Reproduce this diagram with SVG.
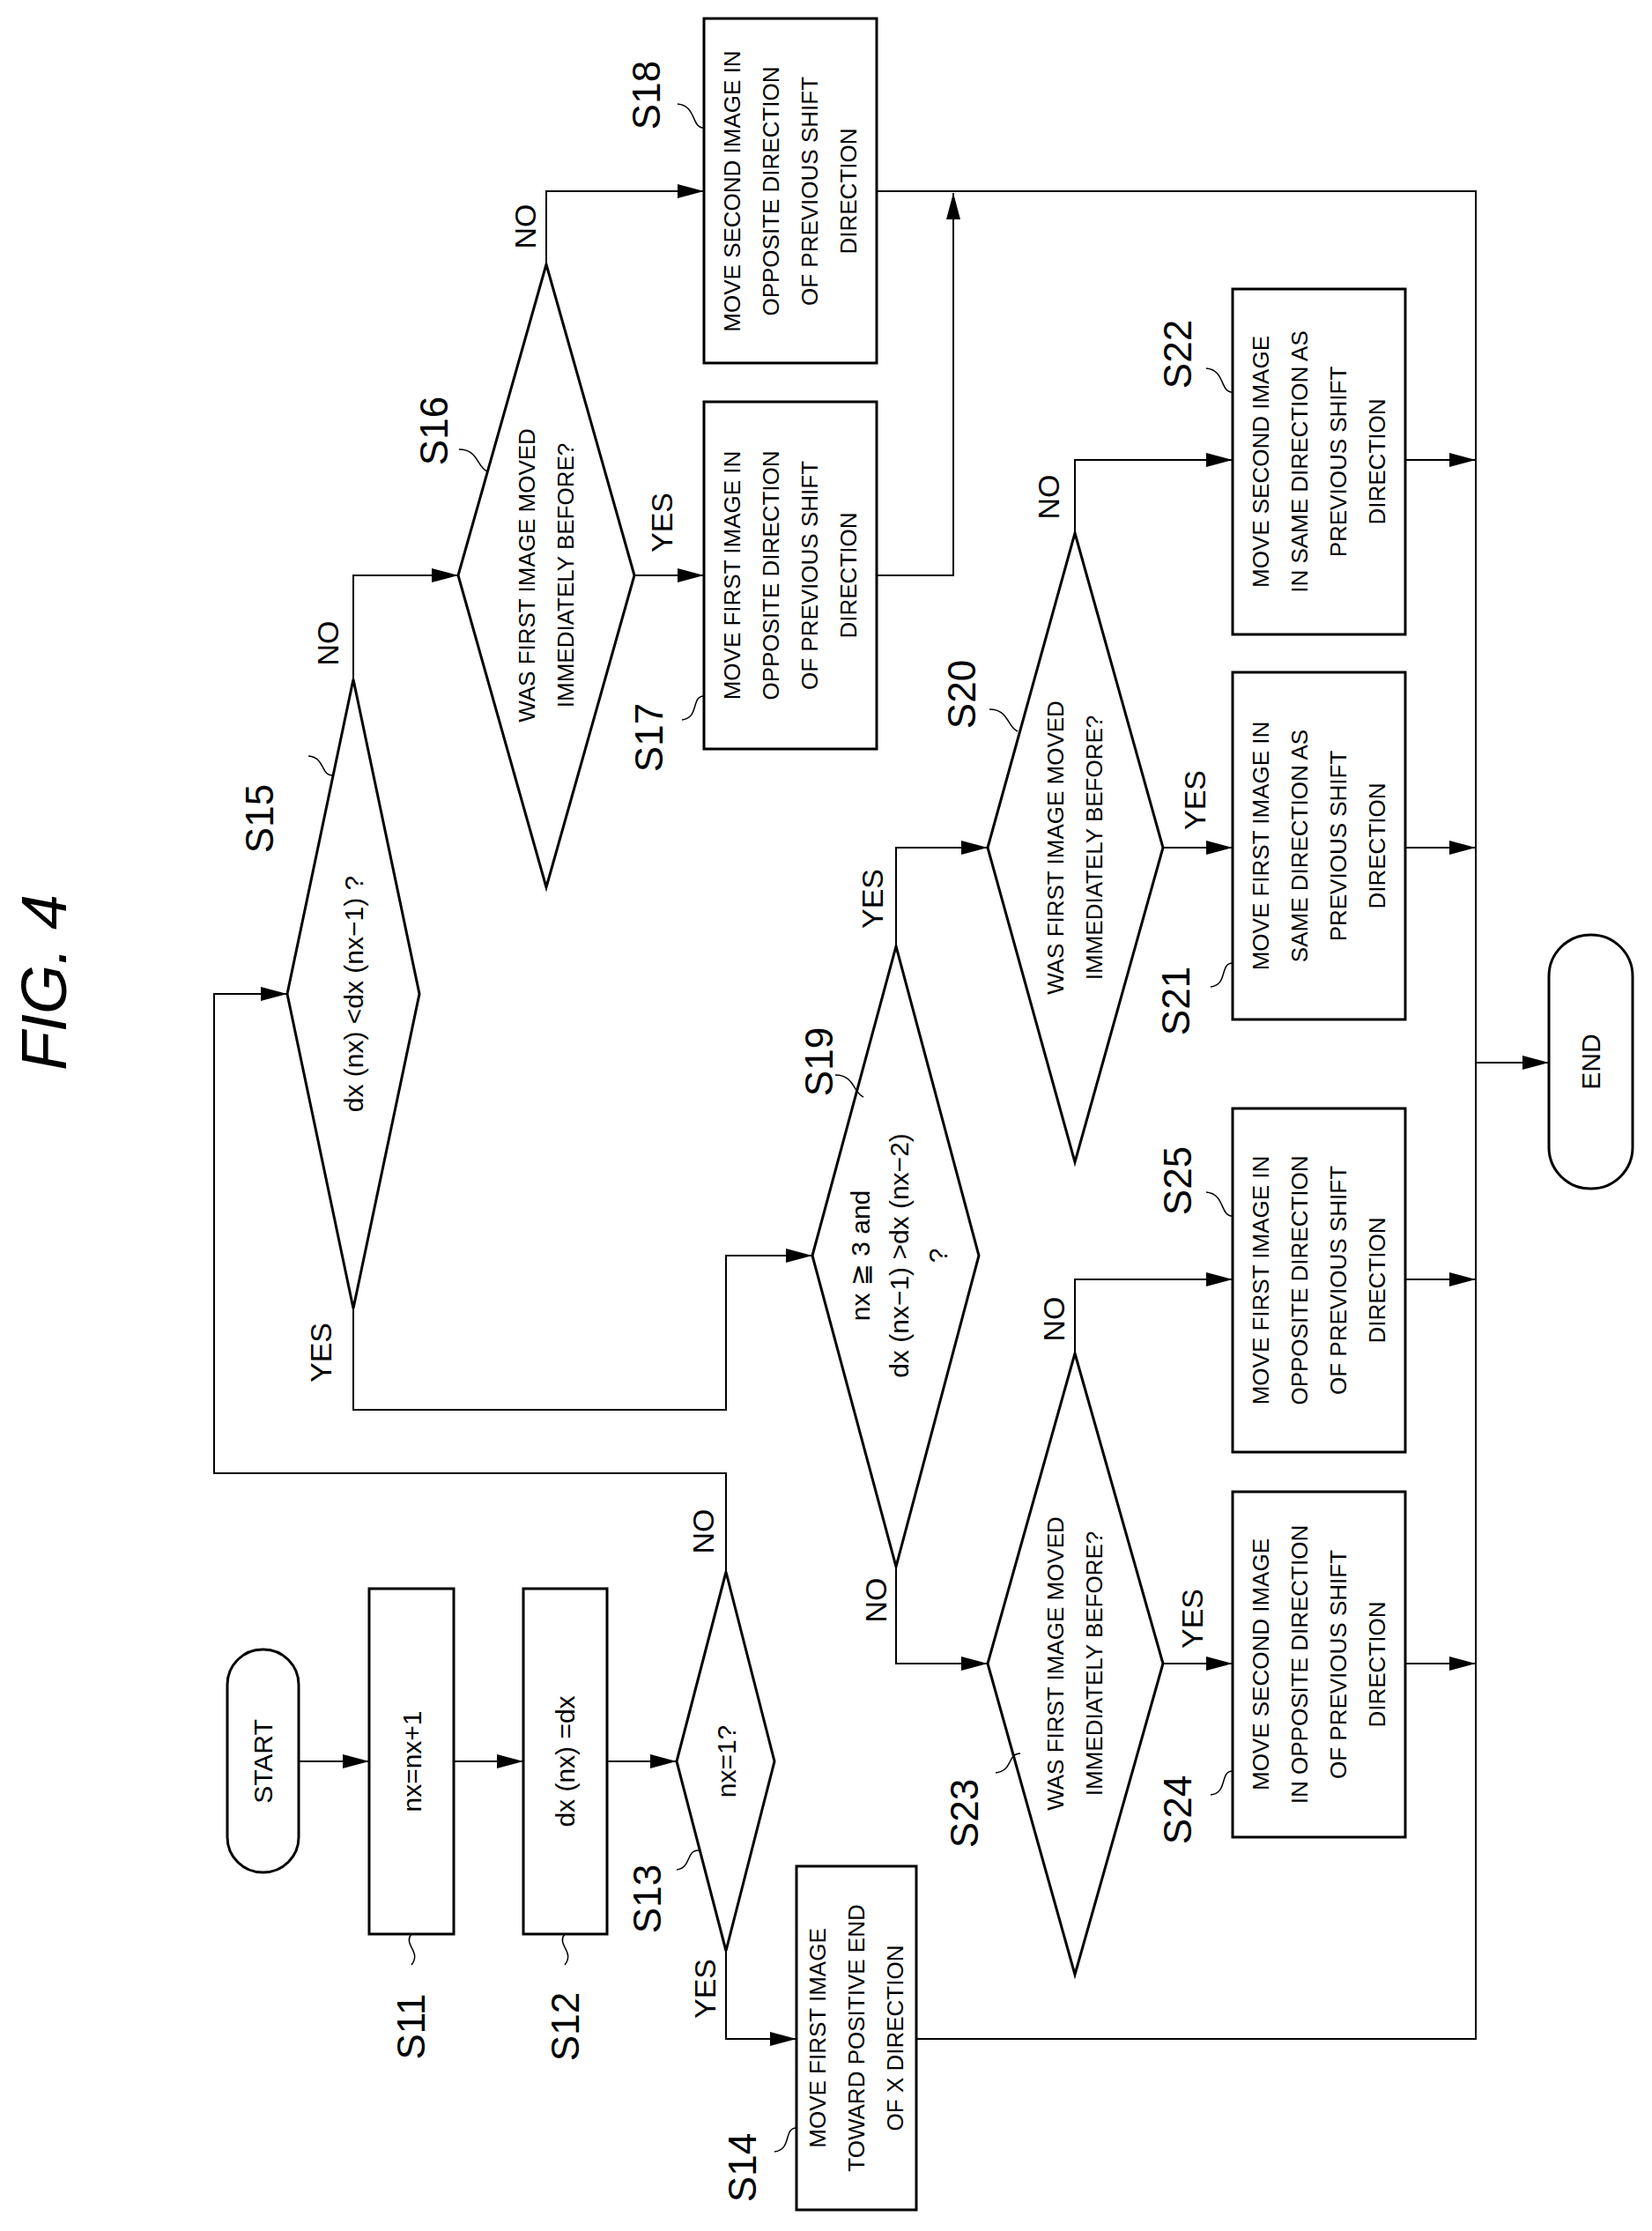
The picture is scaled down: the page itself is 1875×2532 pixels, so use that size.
<svg xmlns="http://www.w3.org/2000/svg" width="1875" height="2532" viewBox="0 0 1875 2532">
<style>
.s{fill:#fff;stroke:#000;stroke-width:3}
.c{fill:none;stroke:#000;stroke-width:2}
.l{fill:none;stroke:#000;stroke-width:1.5}
text{font-family:"Liberation Sans","DejaVu Sans",sans-serif;fill:#000;text-anchor:middle}
.t{font-size:26px}
.d{font-size:30px}
.lb{font-size:44px}
.yn{font-size:34px}
</style>
<defs><marker id="a" markerWidth="30" markerHeight="16" refX="30" refY="8" orient="auto" markerUnits="userSpaceOnUse"><path d="M0,0 L30,8 L0,16 Z" fill="#000"/></marker></defs>
<text transform="translate(75,1115) rotate(-90)" style="font-size:72px;font-style:italic">FIG. 4</text>
<g id="connectors">
<path class="c" d="M339,1999H419" marker-end="url(#a)"/>
<path class="c" d="M515,1999H594" marker-end="url(#a)"/>
<path class="c" d="M689,1999H768" marker-end="url(#a)"/>
<path class="c" d="M824,1784V1672H243V1128H326" marker-end="url(#a)"/>
<path class="c" d="M824,2214V2314H904" marker-end="url(#a)"/>
<path class="c" d="M1040,2314H1675V217H995"/>
<path class="c" d="M995,653H1082V219" marker-end="url(#a)"/>
<path class="c" d="M401,771V653H520" marker-end="url(#a)"/>
<path class="c" d="M720,653H799" marker-end="url(#a)"/>
<path class="c" d="M620,300V217H799" marker-end="url(#a)"/>
<path class="c" d="M401,1485V1600H824V1425H922" marker-end="url(#a)"/>
<path class="c" d="M1017,1074V962H1121" marker-end="url(#a)"/>
<path class="c" d="M1017,1778V1888H1121" marker-end="url(#a)"/>
<path class="c" d="M1320,962H1399" marker-end="url(#a)"/>
<path class="c" d="M1220,605V522H1399" marker-end="url(#a)"/>
<path class="c" d="M1320,1888H1399" marker-end="url(#a)"/>
<path class="c" d="M1220,1536V1452H1399" marker-end="url(#a)"/>
<path class="c" d="M1595,962H1675" marker-end="url(#a)"/>
<path class="c" d="M1595,522H1675" marker-end="url(#a)"/>
<path class="c" d="M1595,1452H1675" marker-end="url(#a)"/>
<path class="c" d="M1595,1888H1675" marker-end="url(#a)"/>
<path class="c" d="M1675,1206H1758" marker-end="url(#a)"/>
</g>
<g id="start"><rect class="s" x="258" y="1872" width="81" height="253" rx="40"/><text class="d" transform="translate(298,1999) rotate(-90)" dy="11">START</text></g>
<g id="s11"><rect class="s" x="419" y="1803" width="96" height="392"/><text class="d" transform="translate(467,1999) rotate(-90)" dy="11">nx=nx+1</text>
<path class="l" d="M467,2195c-10,12 12,20 0,35"/><text class="lb" transform="translate(482,2300) rotate(-90)">S11</text></g>
<g id="s12"><rect class="s" x="594" y="1803" width="95" height="392"/><text class="d" transform="translate(641,1999) rotate(-90)" dy="11">dx (nx) =dx</text>
<path class="l" d="M641,2195c-10,12 12,20 0,35"/><text class="lb" transform="translate(657,2300) rotate(-90)">S12</text></g>
<g id="s13"><path class="s" d="M824,1784L879,1999L824,2214L768,1999Z"/><text class="d" transform="translate(824,1999) rotate(-90)" dy="11">nx=1?</text>
<path class="l" d="M793,2100c-15,0 -8,20 -25,22"/><text class="lb" transform="translate(750,2155) rotate(-90)">S13</text>
<text class="yn" transform="translate(812,2257) rotate(-90)">YES</text><text class="yn" transform="translate(810,1738) rotate(-90)">NO</text></g>
<g id="s14"><rect class="s" x="904" y="2118" width="136" height="390"/><text class="t" transform="translate(972,2313) rotate(-90)"><tspan x="0" y="-35">MOVE FIRST IMAGE</tspan><tspan x="0" y="9">TOWARD POSITIVE END</tspan><tspan x="0" y="53">OF X DIRECTION</tspan></text>
<path class="l" d="M904,2415c-15,0 -5,25 -25,27"/><text class="lb" transform="translate(858,2460) rotate(-90)">S14</text></g>
<g id="s15"><path class="s" d="M401,771L476,1128L401,1485L326,1128Z"/><text class="d" transform="translate(401,1128) rotate(-90)" dy="11">dx (nx) &lt;dx (nx−1) ?</text>
<path class="l" d="M378,880c-15,0 -8,-20 -28,-22"/><text class="lb" transform="translate(310,929) rotate(-90)">S15</text>
<text class="yn" transform="translate(376,1535) rotate(-90)">YES</text><text class="yn" transform="translate(384,730) rotate(-90)">NO</text></g>
<g id="s16"><path class="s" d="M620,300L720,653L620,1007L520,653Z"/><text class="t" transform="translate(620,653) rotate(-90)"><tspan x="0" y="-13">WAS FIRST IMAGE MOVED</tspan><tspan x="0" y="31">IMMEDIATELY BEFORE?</tspan></text>
<path class="l" d="M553,535c-12,-5 -10,-25 -32,-25"/><text class="lb" transform="translate(508,489) rotate(-90)">S16</text>
<text class="yn" transform="translate(763,593) rotate(-90)">YES</text><text class="yn" transform="translate(608,257) rotate(-90)">NO</text></g>
<g id="s17"><rect class="s" x="799" y="456" width="196" height="394"/><text class="t" transform="translate(897,653) rotate(-90)"><tspan x="0" y="-57">MOVE FIRST IMAGE IN</tspan><tspan x="0" y="-13">OPPOSITE DIRECTION</tspan><tspan x="0" y="31">OF PREVIOUS SHIFT</tspan><tspan x="0" y="75">DIRECTION</tspan></text>
<path class="l" d="M799,790c-15,0 -5,25 -25,27"/><text class="lb" transform="translate(752,837) rotate(-90)">S17</text></g>
<g id="s18"><rect class="s" x="799" y="21" width="196" height="391"/><text class="t" transform="translate(897,217) rotate(-90)"><tspan x="0" y="-57">MOVE SECOND IMAGE IN</tspan><tspan x="0" y="-13">OPPOSITE DIRECTION</tspan><tspan x="0" y="31">OF PREVIOUS SHIFT</tspan><tspan x="0" y="75">DIRECTION</tspan></text>
<path class="l" d="M799,145c-15,0 -8,-25 -30,-27"/><text class="lb" transform="translate(749,108) rotate(-90)">S18</text></g>
<g id="s19"><path class="s" d="M1017,1074L1111,1425L1017,1778L922,1425Z"/><text class="d" transform="translate(1017,1425) rotate(-90)"><tspan x="0" y="-30">nx ≧ 3  and</tspan><tspan x="0" y="14">dx (nx−1) &gt;dx (nx−2)</tspan><tspan x="0" y="58">?</tspan></text>
<path class="l" d="M980,1245c-12,-5 -10,-25 -32,-25"/><text class="lb" transform="translate(945,1205) rotate(-90)">S19</text>
<text class="yn" transform="translate(1002,1020) rotate(-90)">YES</text><text class="yn" transform="translate(1006,1816) rotate(-90)">NO</text></g>
<g id="s20"><path class="s" d="M1220,605L1320,962L1220,1319L1121,962Z"/><text class="t" transform="translate(1220,962) rotate(-90)"><tspan x="0" y="-13">WAS FIRST IMAGE MOVED</tspan><tspan x="0" y="31">IMMEDIATELY BEFORE?</tspan></text>
<path class="l" d="M1155,830c-12,-5 -10,-25 -32,-25"/><text class="lb" transform="translate(1107,788) rotate(-90)">S20</text>
<text class="yn" transform="translate(1368,908) rotate(-90)">YES</text><text class="yn" transform="translate(1202,564) rotate(-90)">NO</text></g>
<g id="s21"><rect class="s" x="1399" y="763" width="196" height="394"/><text class="t" transform="translate(1497,960) rotate(-90)"><tspan x="0" y="-57">MOVE FIRST IMAGE IN</tspan><tspan x="0" y="-13">SAME DIRECTION AS</tspan><tspan x="0" y="31">PREVIOUS SHIFT</tspan><tspan x="0" y="75">DIRECTION</tspan></text>
<path class="l" d="M1399,1093c-15,0 -5,25 -25,27"/><text class="lb" transform="translate(1350,1136) rotate(-90)">S21</text></g>
<g id="s22"><rect class="s" x="1399" y="328" width="196" height="392"/><text class="t" transform="translate(1497,524) rotate(-90)"><tspan x="0" y="-57">MOVE SECOND IMAGE</tspan><tspan x="0" y="-13">IN SAME DIRECTION AS</tspan><tspan x="0" y="31">PREVIOUS SHIFT</tspan><tspan x="0" y="75">DIRECTION</tspan></text>
<path class="l" d="M1399,445c-15,0 -8,-25 -30,-27"/><text class="lb" transform="translate(1352,402) rotate(-90)">S22</text></g>
<g id="s23"><path class="s" d="M1220,1536L1320,1888L1220,2241L1121,1888Z"/><text class="t" transform="translate(1220,1888) rotate(-90)"><tspan x="0" y="-13">WAS FIRST IMAGE MOVED</tspan><tspan x="0" y="31">IMMEDIATELY BEFORE?</tspan></text>
<path class="l" d="M1158,1990c-15,0 -8,20 -28,22"/><text class="lb" transform="translate(1110,2058) rotate(-90)">S23</text>
<text class="yn" transform="translate(1365,1837) rotate(-90)">YES</text><text class="yn" transform="translate(1208,1497) rotate(-90)">NO</text></g>
<g id="s24"><rect class="s" x="1399" y="1693" width="196" height="392"/><text class="t" transform="translate(1497,1889) rotate(-90)"><tspan x="0" y="-57">MOVE SECOND IMAGE</tspan><tspan x="0" y="-13">IN OPPOSITE DIRECTION</tspan><tspan x="0" y="31">OF PREVIOUS SHIFT</tspan><tspan x="0" y="75">DIRECTION</tspan></text>
<path class="l" d="M1399,2010c-15,0 -5,25 -25,27"/><text class="lb" transform="translate(1352,2054) rotate(-90)">S24</text></g>
<g id="s25"><rect class="s" x="1399" y="1258" width="196" height="390"/><text class="t" transform="translate(1497,1453) rotate(-90)"><tspan x="0" y="-57">MOVE FIRST IMAGE IN</tspan><tspan x="0" y="-13">OPPOSITE DIRECTION</tspan><tspan x="0" y="31">OF PREVIOUS SHIFT</tspan><tspan x="0" y="75">DIRECTION</tspan></text>
<path class="l" d="M1399,1380c-15,0 -8,-25 -30,-27"/><text class="lb" transform="translate(1352,1340) rotate(-90)">S25</text></g>
<g id="end"><rect class="s" x="1758" y="1061" width="95" height="288" rx="47"/><text class="d" transform="translate(1805,1205) rotate(-90)" dy="11">END</text></g>
</svg>
